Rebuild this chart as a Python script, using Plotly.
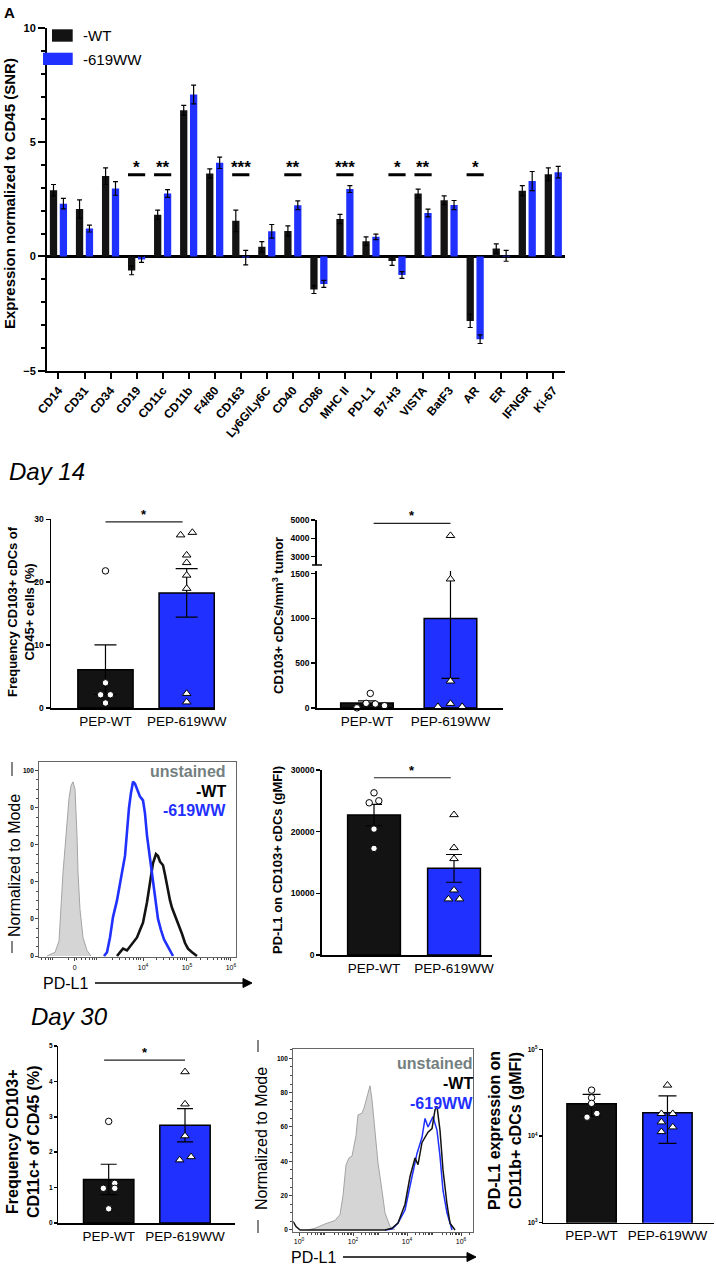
import plotly.graph_objects as go
import numpy as np

W, H = 716, 1266
FONT = "Arial, Liberation Sans, Helvetica, sans-serif"
INK = "#131313"
BLUE = "#1f30ff"
GREY_TXT = "#74807f"

# ---------------- data: panel A (SNR) ----------------
markers = ["CD14", "CD31", "CD34", "CD19", "CD11c", "CD11b", "F4/80", "CD163", "Ly6G/Ly6C",
           "CD40", "CD86", "MHC II", "PD-L1", "B7-H3", "VISTA", "BatF3", "AR", "ER", "IFNGR", "Ki-67"]
wt_snr = [2.90, 2.08, 3.52, -0.61, 1.83, 6.40, 3.63, 1.56, 0.42, 1.12, -1.45, 1.64, 0.67, -0.20,
          2.76, 2.46, -2.82, 0.35, 2.88, 3.60]
wt_snr_sem = [0.25, 0.40, 0.36, 0.19, 0.20, 0.21, 0.20, 0.47, 0.23, 0.22, 0.17, 0.20, 0.19, 0.19,
              0.19, 0.19, 0.29, 0.20, 0.22, 0.28]
mut_snr = [2.31, 1.22, 2.98, -0.13, 2.76, 7.09, 4.10, -0.05, 1.10, 2.24, -1.20, 2.95, 0.86, -0.81,
           1.90, 2.25, -3.62, 0.03, 3.30, 3.69]
mut_snr_sem = [0.23, 0.15, 0.30, 0.13, 0.17, 0.41, 0.25, 0.32, 0.30, 0.19, 0.15, 0.15, 0.12, 0.15,
               0.17, 0.20, 0.19, 0.24, 0.42, 0.25]
sig_markers = ["CD19", "CD11c", "CD163", "CD40", "MHC II", "B7-H3", "VISTA", "AR"]
sig_text = ["*", "**", "***", "**", "***", "*", "**", "*"]
sig_level_snr = 3.58

groups = ["PEP-WT", "PEP-619WW"]

# ---------------- Day 14 ----------------
d14_freq_mean = [6.1, 18.3]
d14_freq_sem = [3.95, 3.85]
d14_freq_wt = [21.8, 4.0, 2.1, 2.1, 0.8]
d14_freq_mut = [27.5, 27.9, 24.3, 23.1, 21.1, 19.0, 2.3, 0.95]
d14_freq_sig = 29.6

d14_dens_mean = [55, 1000]
d14_dens_sem = [25, 670]
d14_dens_wt = [163, 52, 45, 26, 2]
d14_dens_mut = [4150, 1440, 300, 50, 15, 15]
d14_dens_sig = 4820
dens_lower_max, dens_upper_min, dens_upper_max = 1530, 2550, 5000

d14_pdl1_mean = [22690, 14050]
d14_pdl1_sem = [1730, 2250]
d14_pdl1_wt = [26300, 24680, 25000, 20420, 17290]
d14_pdl1_mut = [22740, 17390, 15610, 10530, 9080, 9080]
d14_pdl1_sig = 28740

# histogram day 14 (x = log10 PD-L1 intensity, y = % of mode)
h14_unst_x = [1.818, 2.0, 2.091, 2.136, 2.182, 2.25, 2.318, 2.364, 2.409, 2.455, 2.477, 2.5, 2.523,
              2.568, 2.636, 2.727, 2.818]
h14_unst_y = [0, 2, 8, 30, 45, 65, 85, 92, 94, 90, 80, 65, 45, 25, 10, 3, 0]
h14_wt_x = [3.409, 3.477, 3.545, 3.636, 3.705, 3.795, 3.864, 3.932, 4.0, 4.091, 4.159, 4.227, 4.295,
            4.341, 4.386, 4.455, 4.5, 4.545, 4.614, 4.659, 4.727, 4.795, 4.886, 4.955, 5.023, 5.114, 5.227]
h14_wt_y = [0, 2, 4, 3, 5, 8, 10, 14, 18, 29, 41, 50, 55, 54, 51, 49, 44, 38, 30, 26, 22, 18, 12, 7, 4, 2, 0]
h14_mut_x = [3.114, 3.182, 3.25, 3.318, 3.409, 3.477, 3.545, 3.591, 3.636, 3.682, 3.727, 3.773, 3.818,
             3.864, 3.932, 4.0, 4.045, 4.091, 4.136, 4.205, 4.273, 4.341, 4.409, 4.477, 4.545, 4.614, 4.682]
h14_mut_y = [0, 2, 10, 21, 30, 38, 48, 54, 68, 80, 88, 94, 93, 90, 86, 84, 77, 65, 57, 45, 32, 20, 14, 9, 6, 3, 0]
h14_ticks = [2.45, 4, 5, 6]
h14_ticktext = ["0", "10<sup>4</sup>", "10<sup>5</sup>", "10<sup>6</sup>"]
h14_yticks = [0, 20, 40, 60, 80, 100]
h14_yticktext = ["0", "0", "0", "0", "0", "100"]

# ---------------- Day 30 ----------------
d30_freq_mean = [1.23, 2.76]
d30_freq_sem = [0.43, 0.47]
d30_freq_wt = [2.87, 1.12, 0.98, 0.98, 0.40]
d30_freq_mut = [4.27, 3.36, 2.46, 1.78, 1.87]
d30_freq_sig = 4.6

d30_pdl1_mean = [23500, 18600]
d30_pdl1_sem = [6700, 10400]
d30_pdl1_wt = [33800, 27600, 23800, 18200, 16500]
d30_pdl1_mut = [38500, 18100, 18100, 14500, 12700, 11200]

h30_unst_x = [0.333, 0.593, 0.963, 1.333, 1.519, 1.630, 1.741, 1.852, 1.963, 2.111, 2.185, 2.333, 2.407,
              2.519, 2.630, 2.704, 2.815, 2.926, 3.074, 3.185, 3.370, 3.556]
h30_unst_y = [0, 1, 3.5, 5.5, 9, 20, 38, 42, 43, 55, 67, 68, 71, 77, 84, 76, 55, 39, 23, 10, 2, 0]
h30_wt_x = [-0.22, -0.11, 0.04, 3.185, 3.444, 3.667, 3.926, 4.111, 4.296, 4.407, 4.556, 4.667, 4.778,
            4.926, 5.037, 5.111, 5.222, 5.333, 5.481, 5.593, 5.778]
h30_wt_y = [5, 2, 0, 0, 1, 4, 15, 31, 42, 38, 51, 54, 57, 59, 70, 72, 58, 35, 15, 4, 0]
h30_mut_x = [3.185, 3.444, 3.667, 3.926, 4.185, 4.370, 4.556, 4.667, 4.778, 4.963, 5.111, 5.222,
             5.333, 5.481, 5.667]
h30_mut_y = [0, 0.5, 4, 11.6, 31, 44.6, 54, 65, 60, 66, 58, 43, 23, 10, 0]
h30_ticks = [0, 2, 4, 6]
h30_ticktext = ["10<sup>0</sup>", "10<sup>2</sup>", "10<sup>4</sup>", "10<sup>6</sup>"]

# point spread (horizontal, in category units) - placement only
JIT = {
    "d14_freq_wt": [0, 0, -0.06, 0.06, 0],
    "d14_freq_mut": [-0.075, 0.07, 0, 0, 0, 0, 0, 0],
    "d14_dens_wt": [0.04, -0.01, 0.1, 0.21, -0.12],
    "d14_dens_mut": [0, 0, 0, 0, -0.15, 0.14],
    "d14_pdl1_wt": [0, -0.06, 0.06, 0, 0],
    "d14_pdl1_mut": [0, 0, 0, 0, -0.07, 0.07],
    "d30_freq_wt": [0, 0.08, -0.07, 0.08, 0],
    "d30_freq_mut": [0, 0, 0, -0.07, 0.08],
    "d30_pdl1_wt": [0, 0, 0, 0.07, -0.06],
    "d30_pdl1_mut": [0, -0.08, 0.07, -0.08, 0.07, -0.08],
}


def X(p):
    return p / W


def Y(p):
    return 1 - p / H


def dx(a, b):
    return [a / W, b / W]


def dy(top, bottom):
    return [1 - bottom / H, 1 - top / H]


def tf(size, bold=True, color="black"):
    d = dict(family=FONT, size=size, color=color)
    if bold:
        d["weight"] = "bold"
    return d


def axis(**kw):
    base = dict(showgrid=False, zeroline=False, showline=True, linecolor="black", linewidth=1.5,
                ticks="outside", tickcolor="black", tickwidth=1.5, ticklen=4, fixedrange=True,
                automargin=False)
    base.update(kw)
    return base


fig = go.Figure()
shapes = []
annos = []

# ================= Panel A =================
idx = list(range(len(markers)))
fig.add_trace(go.Bar(x=idx, y=wt_snr, width=0.28, offset=-0.33, marker=dict(color=INK, line=dict(width=0)),
                     error_y=dict(type="data", array=wt_snr_sem, color="black", thickness=1.2, width=2.5),
                     xaxis="x", yaxis="y", showlegend=False, hoverinfo="skip"))
fig.add_trace(go.Bar(x=idx, y=mut_snr, width=0.28, offset=0.05, marker=dict(color=BLUE, line=dict(width=0)),
                     error_y=dict(type="data", array=mut_snr_sem, color="black", thickness=1.2, width=2.5),
                     xaxis="x", yaxis="y", showlegend=False, hoverinfo="skip"))
for m, t in zip(sig_markers, sig_text):
    i = markers.index(m)
    shapes.append(dict(type="line", xref="x", yref="y", x0=i - 0.33, x1=i + 0.33,
                       y0=sig_level_snr, y1=sig_level_snr, line=dict(color="black", width=3)))
    annos.append(dict(xref="x", yref="y", x=i, y=sig_level_snr, yanchor="bottom", xanchor="center", text=t,
                      showarrow=False, font=tf(17), yshift=-4))

# legend for A
shapes.append(dict(type="rect", xref="paper", yref="paper", x0=X(52), x1=X(72.7), y0=Y(41.7), y1=Y(29.3),
                   fillcolor=INK, line=dict(width=0)))
shapes.append(dict(type="rect", xref="paper", yref="paper", x0=X(43), x1=X(72.7), y0=Y(65), y1=Y(52.7),
                   fillcolor=BLUE, line=dict(width=0)))
annos.append(dict(xref="paper", yref="paper", x=X(81), y=Y(35.5), xanchor="left", yanchor="middle",
                  text="-WT", showarrow=False, font=tf(15, bold=False)))
annos.append(dict(xref="paper", yref="paper", x=X(81), y=Y(59), xanchor="left", yanchor="middle",
                  text="-619WW", showarrow=False, font=tf(15, bold=False)))
annos.append(dict(xref="paper", yref="paper", x=X(9), y=Y(194), textangle=-90, xanchor="center",
                  yanchor="middle", text="Expression normalized to CD45 (SNR)", showarrow=False, font=tf(15)))
annos.append(dict(xref="paper", yref="paper", x=X(2), y=Y(2), xanchor="left", yanchor="top",
                  text="A", showarrow=False, font=tf(15)))


# ================= generic bar + dot panels =================
def bar_panel(xa, ya, means, sems, wt_pts, mut_pts, wt_j, mut_j, bw, cap, ya_up=None, split=None):
    fig.add_trace(go.Bar(x=[0, 1], y=means, width=bw,
                         marker=dict(color=[INK, BLUE], line=dict(color="black", width=1.5)),
                         error_y=dict(type="data", array=sems, color="black", thickness=1.2, width=cap),
                         xaxis=xa, yaxis=ya, showlegend=False, hoverinfo="skip"))
    for gi, (pts, jit, sym, size) in enumerate([(wt_pts, wt_j, "circle", 6.5),
                                                  (mut_pts, mut_j, "triangle-up", 7.5)]):
        xs = [gi + j for j in jit]
        if split is None:
            parts = [(list(zip(xs, pts)), ya)]
        else:
            parts = [([(x, v) for x, v in zip(xs, pts) if v <= split], ya),
                     ([(x, v) for x, v in zip(xs, pts) if v > split], ya_up)]
        for part, yy in parts:
            if part:
                fig.add_trace(go.Scatter(x=[p[0] for p in part], y=[p[1] for p in part], mode="markers",
                                         xaxis=xa, yaxis=yy,
                                         marker=dict(symbol=sym, size=size, color="white",
                                                     line=dict(color="black", width=1)),
                                         showlegend=False, hoverinfo="skip", cliponaxis=False))


def sig(xa, ya, level, x0=0, x1=1, size=13):
    shapes.append(dict(type="line", xref=xa, yref=ya, x0=x0, x1=x1, y0=level, y1=level,
                       line=dict(color="#222", width=1.2)))
    annos.append(dict(xref=xa, yref=ya, x=(x0 + x1) / 2, y=level, yanchor="bottom", xanchor="center",
                      text="*", showarrow=False, font=tf(size), yshift=-2))


bar_panel("x2", "y2", d14_freq_mean, d14_freq_sem, d14_freq_wt, d14_freq_mut,
          JIT["d14_freq_wt"], JIT["d14_freq_mut"], 0.68, 11)
sig("x2", "y2", d14_freq_sig, 0, 0.95)

bar_panel("x3", "y3", d14_dens_mean, d14_dens_sem, d14_dens_wt, d14_dens_mut,
          JIT["d14_dens_wt"], JIT["d14_dens_mut"], 0.63, 9, ya_up="y4", split=dens_lower_max)
sig("x3", "y4", d14_dens_sig, 0.08, 1.0)

bar_panel("x6", "y6", d14_pdl1_mean, d14_pdl1_sem, d14_pdl1_wt, d14_pdl1_mut,
          JIT["d14_pdl1_wt"], JIT["d14_pdl1_mut"], 0.66, 8)
sig("x6", "y6", d14_pdl1_sig, 0, 0.96)

bar_panel("x7", "y7", d30_freq_mean, d30_freq_sem, d30_freq_wt, d30_freq_mut,
          JIT["d30_freq_wt"], JIT["d30_freq_mut"], 0.66, 8)
sig("x7", "y7", d30_freq_sig, -0.06, 1.0)

bar_panel("x9", "y9", d30_pdl1_mean, d30_pdl1_sem, d30_pdl1_wt, d30_pdl1_mut,
          JIT["d30_pdl1_wt"], JIT["d30_pdl1_mut"], 0.65, 9)


# ================= histograms =================
def hist(xa, ya, ux, uy, wx, wy, mx, my, lw, mut_on_top=True):
    fig.add_trace(go.Scatter(x=ux, y=uy, mode="lines", fill="tozeroy", fillcolor="#d5d5d5",
                             line=dict(color="#a3a3a3", width=1), xaxis=xa, yaxis=ya,
                             showlegend=False, hoverinfo="skip"))
    order = [(wx, wy, INK), (mx, my, BLUE)] if mut_on_top else [(mx, my, BLUE), (wx, wy, INK)]
    for xx, yy, c in order:
        fig.add_trace(go.Scatter(x=xx, y=yy, mode="lines", line=dict(color=c, width=lw, shape="linear"),
                                 xaxis=xa, yaxis=ya, showlegend=False, hoverinfo="skip"))


hist("x5", "y5", h14_unst_x, h14_unst_y, h14_wt_x, h14_wt_y, h14_mut_x, h14_mut_y, 2.6, True)
hist("x8", "y8", h30_unst_x, h30_unst_y, h30_wt_x, h30_wt_y, h30_mut_x, h30_mut_y, 1.5, False)

minor14 = [d + np.log10(k) for d in range(1, 7) for k in range(2, 10) if 1.65 < d + np.log10(k) < 6.1]
minor30 = [d + np.log10(k) for d in range(0, 7) for k in range(2, 10) if d + np.log10(k) < 6.44]

# histogram legends
for (xr, ys, fs) in [(228, [771.7, 791.7, 810.7], 16), (475, [1063.3, 1083.3, 1103.3], 16)]:
    for txt, col, yy in zip(["unstained", "-WT", "-619WW"], [GREY_TXT, "black", BLUE], ys):
        annos.append(dict(xref="paper", yref="paper", x=X(xr), y=Y(yy), xanchor="right", yanchor="middle",
                          text=txt, showarrow=False, font=tf(fs, color=col)))

# histogram side labels & arrows
for (xc, yc) in [(14, 866), (261, 1139)]:
    annos.append(dict(xref="paper", yref="paper", x=X(xc), y=Y(yc), textangle=-90, xanchor="center",
                      yanchor="middle", text="Normalized to Mode", showarrow=False, font=tf(16, bold=False)))
for (xc, y0, y1) in [(12, 762, 776), (12, 941, 953), (258, 1040, 1052), (258, 1220, 1233)]:
    shapes.append(dict(type="line", xref="paper", yref="paper", x0=X(xc), x1=X(xc), y0=Y(y0), y1=Y(y1),
                       line=dict(color="#333", width=1.2)))
for (xl, x0, x1, yy) in [(41, 95, 252, 983), (289, 343, 476, 1257)]:
    annos.append(dict(xref="paper", yref="paper", x=X(xl), y=Y(yy), xanchor="left", yanchor="middle",
                      text="PD-L1", showarrow=False, font=tf(16, bold=False)))
    shapes.append(dict(type="line", xref="paper", yref="paper", x0=X(x0), x1=X(x1 - 7), y0=Y(yy), y1=Y(yy),
                       line=dict(color="black", width=1.5)))
    shapes.append(dict(type="path", xref="paper", yref="paper",
                       path=f"M {X(x1 - 9)} {Y(yy - 4.5)} L {X(x1)} {Y(yy)} L {X(x1 - 9)} {Y(yy + 4.5)} Z",
                       fillcolor="black", line=dict(color="black", width=1)))

# ================= panel titles =================
annos.append(dict(xref="paper", yref="paper", x=X(7), y=Y(472), xanchor="left", yanchor="middle",
                  text="Day 14", showarrow=False, font=dict(family=FONT, size=24, style="italic", color="black")))
annos.append(dict(xref="paper", yref="paper", x=X(29), y=Y(1016), xanchor="left", yanchor="middle",
                  text="Day 30", showarrow=False, font=dict(family=FONT, size=24, style="italic", color="black")))

ylabels = [
    (21, 612, "Frequency CD103+ cDCs of<br>CD45+ cells (%)", 13),
    (278, 616, "CD103+ cDCs/mm<sup>3</sup> tumor", 13),
    (278, 860, "PD-L1 on CD103+ cDCs (gMFI)", 13),
    (23, 1142, "Frequency CD103+<br>CD11c+ of CD45 (%)", 16),
    (505, 1131, "PD-L1 expression on<br>CD11b+ cDCs (gMFI)", 16),
]
for xc, yc, txt, fs in ylabels:
    annos.append(dict(xref="paper", yref="paper", x=X(xc), y=Y(yc), textangle=-90, xanchor="center",
                      yanchor="middle", text=txt, showarrow=False, font=tf(fs)))

# break mark on the density axis
shapes.append(dict(type="line", xref="paper", yref="paper", x0=X(312), x1=X(322), y0=Y(565), y1=Y(565),
                   line=dict(color="black", width=1.5)))

cat_ticks = dict(tickmode="array", tickvals=[0, 1], ticktext=groups, ticks="", tickfont=tf(13.5, bold=False))

fig.update_layout(
    template="none",
    width=W, height=H, margin=dict(l=0, r=0, t=0, b=0, pad=0), autosize=False,
    paper_bgcolor="white", plot_bgcolor="rgba(0,0,0,0)", barmode="overlay", showlegend=False,
    font=dict(family=FONT, color="black"),
    # ---- A
    xaxis=axis(domain=dx(47, 565), range=[-0.44, 19.45], anchor="y", tickmode="array", tickvals=idx,
               ticktext=markers, tickangle=-50, tickfont=tf(12), ticklen=6, tickwidth=2, linewidth=2),
    yaxis=axis(domain=dy(28, 370.7), range=[-5, 10], anchor="x", tickmode="linear", tick0=-5, dtick=5,
               tickfont=tf(11), ticklen=7, tickwidth=2, linewidth=2,
               minor=dict(tickmode="linear", tick0=0, dtick=1, ticklen=4, tickwidth=2, tickcolor="black",
                          ticks="outside"),
               zeroline=True, zerolinecolor="black", zerolinewidth=2.5),
    # ---- B1
    xaxis2=axis(domain=dx(51, 215), range=[-0.671, 1.349], anchor="y2", **cat_ticks),
    yaxis2=axis(domain=dy(519.3, 708), range=[0, 30], anchor="x2", tickmode="array",
                tickvals=[0, 10, 20, 30], tickfont=tf(8.5)),
    # ---- B2 (broken axis)
    xaxis3=axis(domain=dx(316.7, 503), range=[-0.602, 1.629], anchor="y3", **cat_ticks),
    yaxis3=axis(domain=dy(571, 708), range=[0, dens_lower_max], anchor="x3", tickmode="array",
                tickvals=[0, 500, 1000, 1500], tickfont=tf(8.5)),
    yaxis4=axis(domain=dy(520, 565), range=[dens_upper_min, dens_upper_max], anchor="x3", tickmode="array",
                tickvals=[3000, 4000, 5000], tickfont=tf(8.5)),
    # ---- C1 histogram
    xaxis5=axis(domain=dx(39.3, 236), range=[1.643, 6.114], anchor="y5", mirror=True, linecolor="#666",
                linewidth=1.2, tickmode="array", tickvals=h14_ticks, ticktext=h14_ticktext,
                tickfont=tf(7, bold=False), ticklen=3, tickwidth=1, tickcolor="#444",
                minor=dict(tickmode="array", tickvals=minor14, ticklen=2, tickwidth=1, tickcolor="#444",
                           ticks="outside")),
    yaxis5=axis(domain=dy(761.7, 957), range=[-0.54, 104.86], anchor="x5", mirror=True, linecolor="#666",
                linewidth=1.2, tickmode="array", tickvals=h14_yticks, ticktext=h14_yticktext,
                tickfont=tf(6.5), ticklen=3, tickwidth=1, tickcolor="#444",
                minor=dict(tickmode="linear", tick0=0, dtick=5, ticklen=2, tickwidth=1, tickcolor="#444",
                           ticks="outside")),
    # ---- C2
    xaxis6=axis(domain=dx(321.7, 492), range=[-0.654, 1.475], anchor="y6", **cat_ticks),
    yaxis6=axis(domain=dy(770, 955), range=[0, 30000], anchor="x6", tickmode="array",
                tickvals=[0, 10000, 20000, 30000], ticktext=["0", "10000", "20000", "30000"], tickfont=tf(8.5)),
    # ---- D1
    xaxis7=axis(domain=dx(58.3, 235), range=[-0.66, 1.655], anchor="y7", **cat_ticks),
    yaxis7=axis(domain=dy(1046, 1223), range=[0, 5], anchor="x7", tickmode="linear", tick0=0, dtick=1,
                tickfont=tf(6.5), ticklen=3),
    # ---- D2 histogram
    xaxis8=axis(domain=dx(293.3, 473), range=[-0.211, 6.444], anchor="y8", mirror=True, linecolor="#666",
                linewidth=1.2, tickmode="array", tickvals=h30_ticks, ticktext=h30_ticktext,
                tickfont=tf(7, bold=False), ticklen=3, tickwidth=1, tickcolor="#444",
                minor=dict(tickmode="array", tickvals=minor30, ticklen=2, tickwidth=1, tickcolor="#444",
                           ticks="outside")),
    yaxis8=axis(domain=dy(1049.3, 1231.7), range=[-1.0, 105.24], anchor="x8", mirror=True, linecolor="#666",
                linewidth=1.2, tickmode="array", tickvals=h14_yticks, tickfont=tf(6.5), ticklen=3,
                tickwidth=1, tickcolor="#444",
                minor=dict(tickmode="linear", tick0=0, dtick=5, ticklen=2, tickwidth=1, tickcolor="#444",
                           ticks="outside")),
    # ---- D3 (log)
    xaxis9=axis(domain=dx(543.3, 714), range=[-0.636, 1.613], anchor="y9", **cat_ticks),
    yaxis9=axis(domain=dy(1049.3, 1222.7), type="log", range=[3, 5], anchor="x9", tickmode="array",
                tickvals=[1000, 10000, 100000],
                ticktext=["10<sup>3</sup>", "10<sup>4</sup>", "10<sup>5</sup>"], tickfont=tf(6.5), ticklen=3),
    shapes=shapes, annotations=annos,
)

fig.write_html("out.html", config={"displayModeBar": False, "staticPlot": True},
               post_script="document.body.style.margin='0';document.body.style.overflow='hidden';")
